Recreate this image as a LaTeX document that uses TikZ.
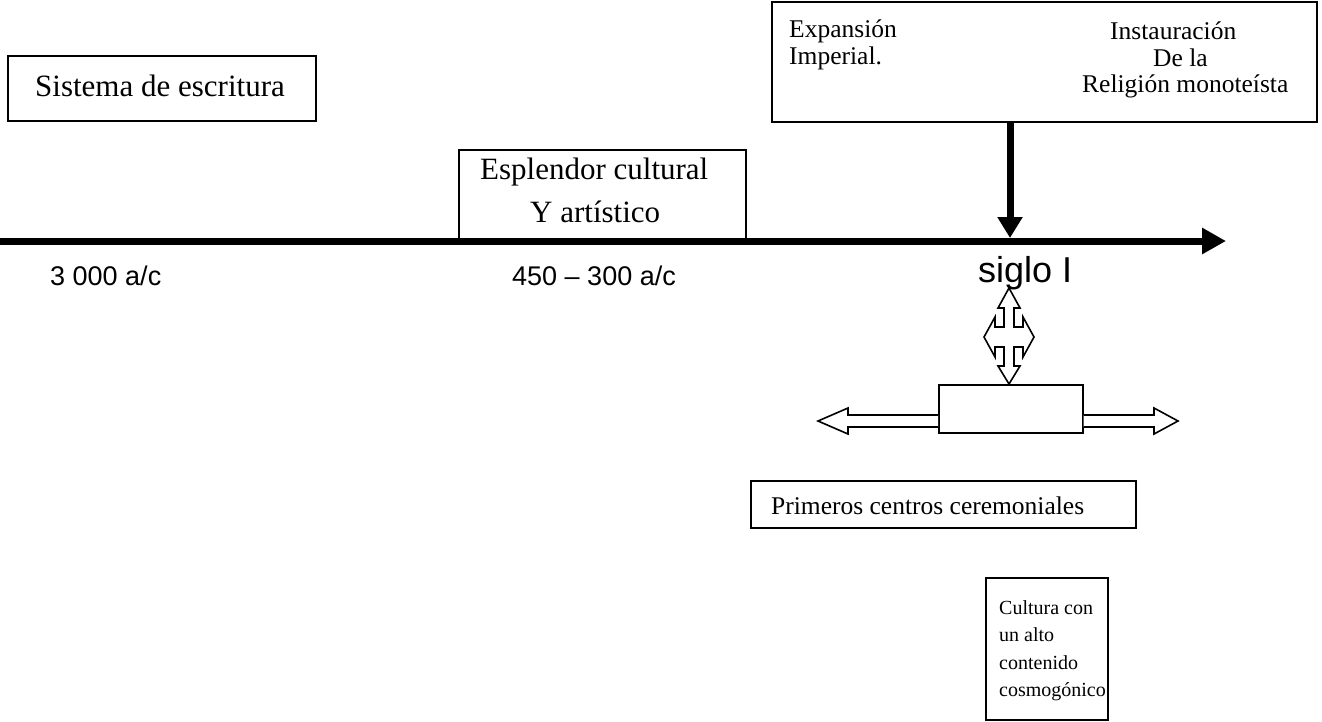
\documentclass[tikz,border=0pt]{standalone}
\usepackage{fontspec}
\setmainfont{Liberation Serif}
\setsansfont{Liberation Sans}
\usetikzlibrary{arrows.meta,calc}
\begin{document}
\begin{tikzpicture}[x=1pt,y=-1pt,
  box/.style={draw,line width=1.6pt,inner sep=0pt,anchor=north west},
  txt/.style={inner sep=0pt,anchor=west},
  big/.style={font=\fontsize{31}{36}\selectfont},
  mid/.style={font=\fontsize{25.5}{28}\selectfont},
  lab/.style={font=\sffamily\fontsize{27}{30}\selectfont},
  hollow/.style={draw,line width=1.6pt,fill=white,line join=miter}]
\useasboundingbox (0,0) rectangle (1322,721);
% boxes
\node[box,minimum width=308pt,minimum height=65pt] (sis) at (7,55) {};
\node[txt,big] (sist) at (35,86) {Sistema de escritura};
\node[box,minimum width=287pt,minimum height=92pt] (esp) at (458,149) {};
\node[txt,big] (espt1) at (480,172) {Esplendor cultural};
\node[txt,big] (espt2) at (530,212) {Y artístico};
\node[box,minimum width=545pt,minimum height=120pt] (top) at (771,1) {};
\node[txt,mid] (exp1) at (789,31) {Expansión};
\node[txt,mid] (exp2) at (789,58) {Imperial.};
\node[txt,mid] (ins1) at (1110,31) {Instauración};
\node[txt,mid] (ins2) at (1153,58) {De la};
\node[txt,mid] (ins3) at (1082,86) {Religión monoteísta};
% timeline
\coordinate (t0) at (0,241);
\coordinate (t1) at (1226,241);
\draw[line width=7pt,-{Triangle[length=24pt,width=25pt]}] (t0) -- (t1);
\coordinate (va) at (1010,121);
\coordinate (vb) at (1010,238);
\draw[line width=7pt,-{Triangle[length=21pt,width=24pt]}] (va) -- (vb);
% labels
\node[txt,lab] (l1) at (50,276) {3 000 a/c};
\node[txt,lab] (l2) at (512,276) {450 – 300 a/c};
\node[txt,font=\sffamily\fontsize{36}{40}\selectfont] (l3) at (978,273) {siglo I};
% cross arrow
\draw[hollow] (1009,288) -- (1020,308) -- (1014,308) -- (1014,327) -- (1023,327) -- (1023,317) -- (1034,337) -- (1023,357) -- (1023,347) -- (1014,347) -- (1014,366) -- (1020,366) -- (1009,384) -- (998,366) -- (1004,366) -- (1004,347) -- (995,347) -- (995,357) -- (984,337) -- (995,317) -- (995,327) -- (1004,327) -- (1004,308) -- (998,308) -- cycle;
% middle box and arrows
\node[box,minimum width=144pt,minimum height=48pt] (mbox) at (938,384) {};
\draw[hollow] (mbox.west |- 0,415) -- (848,415) -- (848,408) -- (818,421) -- (848,434) -- (848,427) -- (mbox.west |- 0,427);
\draw[hollow] (mbox.east |- 0,415) -- (1154,415) -- (1154,408) -- (1178,421) -- (1154,434) -- (1154,427) -- (mbox.east |- 0,427);
% lower boxes
\node[box,minimum width=385pt,minimum height=47pt] (pri) at (750,480) {};
\node[txt,mid] (prit) at (771,506) {Primeros centros ceremoniales};
\node[box,minimum width=122pt,minimum height=142pt] (cul) at (985,577) {};
\node[txt,anchor=north west,align=left,font=\fontsize{20}{27.5}\selectfont] (cult) at (999,600) {Cultura con\\un alto\\contenido\\cosmogónico};
\end{tikzpicture}
\end{document}
